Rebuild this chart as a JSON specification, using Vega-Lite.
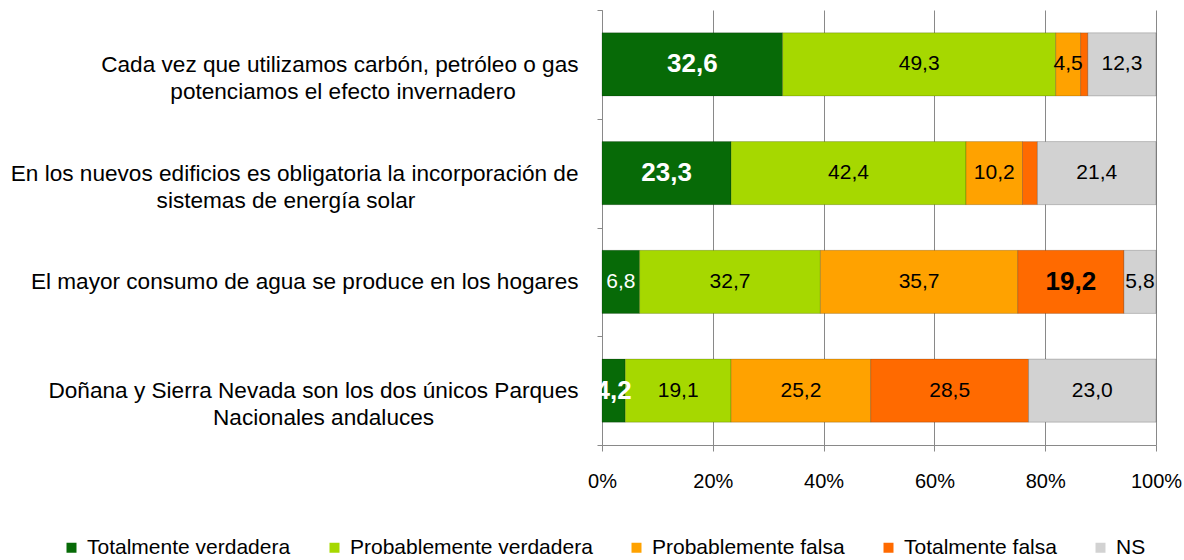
{
  "$schema": "https://vega.github.io/schema/vega-lite/v6.json",
  "width": 554,
  "height": 435,
  "autosize": {"type": "none"},
  "padding": {"left": 602, "top": 10, "right": 28, "bottom": 115},
  "background": "white",
  "config": {
    "font": "Liberation Sans",
    "view": {"stroke": null}
  },
  "data": {
    "values": [
      {"pregunta": "Cada vez que utilizamos carbón, petróleo o gas\npotenciamos el efecto invernadero", "respuesta": "Totalmente verdadera", "valor": 32.6},
      {"pregunta": "Cada vez que utilizamos carbón, petróleo o gas\npotenciamos el efecto invernadero", "respuesta": "Probablemente verdadera", "valor": 49.3},
      {"pregunta": "Cada vez que utilizamos carbón, petróleo o gas\npotenciamos el efecto invernadero", "respuesta": "Probablemente falsa", "valor": 4.5},
      {"pregunta": "Cada vez que utilizamos carbón, petróleo o gas\npotenciamos el efecto invernadero", "respuesta": "Totalmente falsa", "valor": 1.3},
      {"pregunta": "Cada vez que utilizamos carbón, petróleo o gas\npotenciamos el efecto invernadero", "respuesta": "NS", "valor": 12.3},
      {"pregunta": "En los nuevos edificios es obligatoria la incorporación de\nsistemas de energía solar", "respuesta": "Totalmente verdadera", "valor": 23.3},
      {"pregunta": "En los nuevos edificios es obligatoria la incorporación de\nsistemas de energía solar", "respuesta": "Probablemente verdadera", "valor": 42.4},
      {"pregunta": "En los nuevos edificios es obligatoria la incorporación de\nsistemas de energía solar", "respuesta": "Probablemente falsa", "valor": 10.2},
      {"pregunta": "En los nuevos edificios es obligatoria la incorporación de\nsistemas de energía solar", "respuesta": "Totalmente falsa", "valor": 2.7},
      {"pregunta": "En los nuevos edificios es obligatoria la incorporación de\nsistemas de energía solar", "respuesta": "NS", "valor": 21.4},
      {"pregunta": "El mayor consumo de agua se produce en los hogares", "respuesta": "Totalmente verdadera", "valor": 6.8},
      {"pregunta": "El mayor consumo de agua se produce en los hogares", "respuesta": "Probablemente verdadera", "valor": 32.7},
      {"pregunta": "El mayor consumo de agua se produce en los hogares", "respuesta": "Probablemente falsa", "valor": 35.7},
      {"pregunta": "El mayor consumo de agua se produce en los hogares", "respuesta": "Totalmente falsa", "valor": 19.2},
      {"pregunta": "El mayor consumo de agua se produce en los hogares", "respuesta": "NS", "valor": 5.8},
      {"pregunta": "Doñana y Sierra Nevada son los dos únicos Parques\nNacionales andaluces", "respuesta": "Totalmente verdadera", "valor": 4.2},
      {"pregunta": "Doñana y Sierra Nevada son los dos únicos Parques\nNacionales andaluces", "respuesta": "Probablemente verdadera", "valor": 19.1},
      {"pregunta": "Doñana y Sierra Nevada son los dos únicos Parques\nNacionales andaluces", "respuesta": "Probablemente falsa", "valor": 25.2},
      {"pregunta": "Doñana y Sierra Nevada son los dos únicos Parques\nNacionales andaluces", "respuesta": "Totalmente falsa", "valor": 28.5},
      {"pregunta": "Doñana y Sierra Nevada son los dos únicos Parques\nNacionales andaluces", "respuesta": "NS", "valor": 23.0}
    ]
  },
  "transform": [
    {"calculate": "indexof(['Totalmente verdadera','Probablemente verdadera','Probablemente falsa','Totalmente falsa','NS'], datum.respuesta)", "as": "orden"},
    {"stack": "valor", "groupby": ["pregunta"], "sort": [{"field": "orden", "order": "ascending"}], "offset": "normalize", "as": ["x0", "x1"]},
    {"calculate": "(datum.x0 + datum.x1) / 2", "as": "xm"},
    {"calculate": "replace(format(datum.valor, '.1f'), '.', ',')", "as": "etiqueta"},
    {"calculate": "(datum.respuesta == 'Totalmente verdadera' && indexof(datum.pregunta, 'El mayor consumo') < 0) || (datum.respuesta == 'Totalmente falsa' && indexof(datum.pregunta, 'El mayor consumo') >= 0)", "as": "correcta"}
  ],
  "encoding": {
    "y": {
      "field": "pregunta",
      "type": "nominal",
      "sort": null,
      "scale": {"paddingInner": 0, "paddingOuter": 0},
      "axis": {
        "title": null,
        "ticks": true,
        "tickBand": "extent",
        "tickSize": 5,
        "tickColor": "#898989",
        "domainColor": "#898989",
        "labelFontSize": 22.6,
        "labelColor": "black",
        "labelLimit": 700,
        "labelPadding": 19,
        "labelLineHeight": 27,
        "labelExpr": "length(split(datum.label, '\\n')) > 1 ? [split(datum.label, '\\n')[0], pad(split(datum.label, '\\n')[1], length(split(datum.label, '\\n')[1]) + round((length(split(datum.label, '\\n')[0]) - length(split(datum.label, '\\n')[1])) * 0.78), '\u00a0') + '\u200b'] : datum.label"
      }
    }
  },
  "layer": [
    {
      "mark": {"type": "bar", "height": {"band": 0.58}, "stroke": "#00000030", "strokeWidth": 1},
      "encoding": {
        "x": {
          "field": "x0",
          "type": "quantitative",
          "scale": {"domain": [0, 1], "nice": false},
          "axis": {
            "title": null,
            "format": ".0%",
            "values": [0, 0.2, 0.4, 0.6, 0.8, 1],
            "grid": true,
            "gridColor": "#898989",
            "gridOpacity": 1,
            "domainColor": "#898989",
            "tickColor": "#898989",
            "tickSize": 6,
            "labelFontSize": 20,
            "labelColor": "black",
            "labelPadding": 20,
            "labelFlush": false
          }
        },
        "x2": {"field": "x1"},
        "color": {
          "field": "respuesta",
          "type": "nominal",
          "sort": ["Totalmente verdadera", "Probablemente verdadera", "Probablemente falsa", "Totalmente falsa", "NS"],
          "scale": {
            "domain": ["Totalmente verdadera", "Probablemente verdadera", "Probablemente falsa", "Totalmente falsa", "NS"],
            "range": ["#076a07", "#a6d800", "#ffa200", "#ff6a00", "#d2d2d2"]
          },
          "legend": {
            "title": null,
            "orient": "none",
            "direction": "horizontal",
            "legendX": -541,
            "legendY": 527,
            "padding": 0,
            "symbolType": "square",
            "symbolSize": 100,
            "symbolStrokeWidth": 0,
            "labelFontSize": 21,
            "labelColor": "black",
            "labelOffset": 5,
            "columnPadding": 33,
            "labelLimit": 400
          }
        }
      }
    },
    {
      "transform": [{"filter": "datum.valor >= 3 && !datum.correcta"}],
      "mark": {"type": "text", "fontSize": 21, "align": "center", "baseline": "middle"},
      "encoding": {
        "x": {"field": "xm", "type": "quantitative"},
        "text": {"field": "etiqueta"},
        "color": {"condition": {"test": "datum.respuesta == 'Totalmente verdadera'", "value": "white"}, "value": "black"}
      }
    },
    {
      "transform": [{"filter": "datum.correcta"}],
      "mark": {"type": "text", "fontSize": 26, "fontWeight": "bold", "align": "center", "baseline": "middle"},
      "encoding": {
        "x": {"field": "xm", "type": "quantitative"},
        "text": {"field": "etiqueta"},
        "color": {"condition": {"test": "datum.respuesta == 'Totalmente verdadera'", "value": "white"}, "value": "black"}
      }
    }
  ]
}
